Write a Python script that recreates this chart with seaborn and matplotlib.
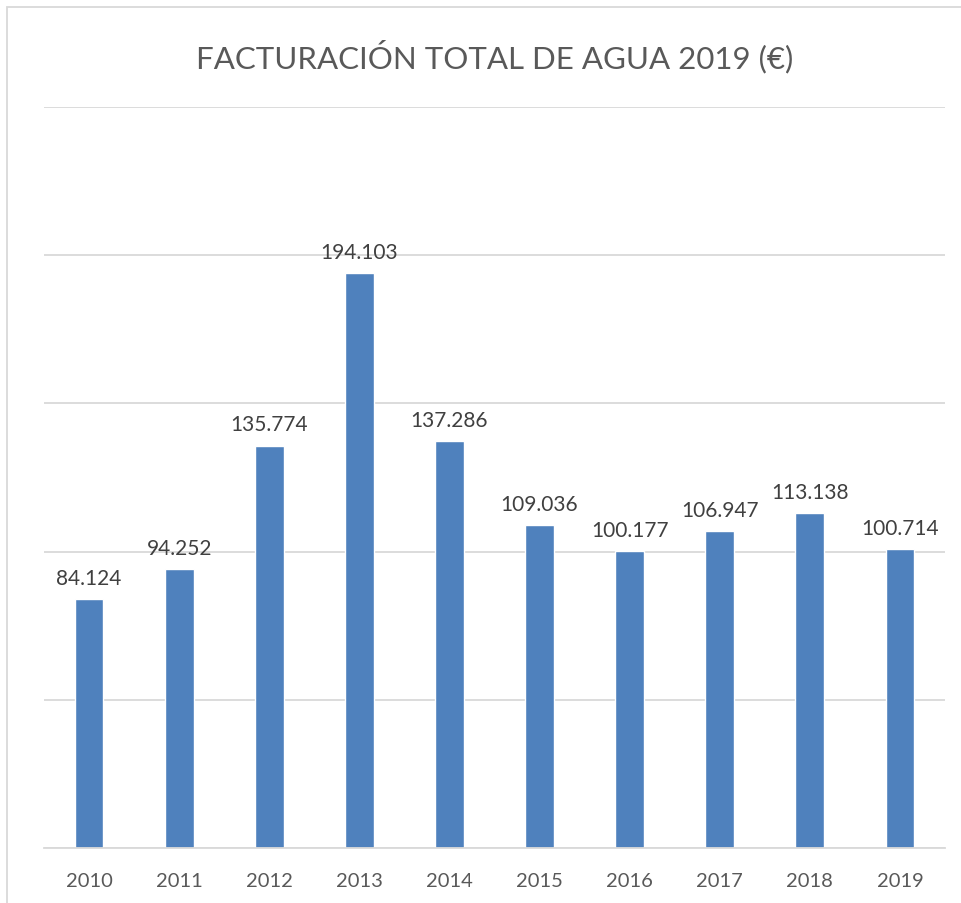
import matplotlib
matplotlib.use("Agg")
import matplotlib.pyplot as plt
import seaborn as sns
import pandas as pd
from matplotlib.patches import Rectangle

years = ["2010", "2011", "2012", "2013", "2014", "2015", "2016", "2017", "2018", "2019"]
facturacion = [84124, 94252, 135774, 194103, 137286, 109036, 100177, 106947, 113138, 100714]
value_labels = ["84.124", "94.252", "135.774", "194.103", "137.286",
                "109.036", "100.177", "106.947", "113.138", "100.714"]
title = "FACTURACIÓN TOTAL DE AGUA 2019 (€)"

sns.set_style("white")
plt.rcParams["font.family"] = ["Lato", "DejaVu Sans"]

text_color = "#595959"
grid_color = "#D9D9D9"

df = pd.DataFrame({"year": years, "value": facturacion})

fig = plt.figure(figsize=(9.61, 9.04), dpi=100)
ax = fig.add_axes([44 / 961, 1 - 849 / 904, 901 / 961, (849 - 108) / 904])

sns.barplot(data=df, x="year", y="value", color="#4F81BD", width=0.32,
            saturation=1, ax=ax)

ax.set_ylim(0, 250000)
ax.set_yticks([0, 50000, 100000, 150000, 200000, 250000])
ax.set_yticklabels([])
ax.tick_params(axis="y", length=0)
ax.yaxis.grid(True, color=grid_color, linewidth=1.3)
ax.set_axisbelow(True)
ax.set_xlim(-0.5, len(years) - 0.5)

for s in ["top", "right", "left"]:
    ax.spines[s].set_visible(False)
ax.spines["bottom"].set_color(grid_color)
ax.spines["bottom"].set_linewidth(1.3)

ax.tick_params(axis="x", length=0, pad=17, labelsize=14.5, labelcolor=text_color)
ax.set_xlabel("")
ax.set_ylabel("")

for i, (v, lab) in enumerate(zip(facturacion, value_labels)):
    ax.annotate(lab, (i, v), xytext=(0, 8), textcoords="offset points",
                ha="center", va="bottom", fontsize=15, color="#404040")

fig.text(495 / 961, 1 - 57 / 904, title, ha="center", va="center",
         fontsize=22.5, color=text_color)

# chart border
fig.patches.append(Rectangle((7 / 961, -0.1), 1.1, 1.1 - 8 / 904,
                             transform=fig.transFigure, fill=False,
                             edgecolor=grid_color, linewidth=1.3))

fig.savefig("out.png", dpi=100)
